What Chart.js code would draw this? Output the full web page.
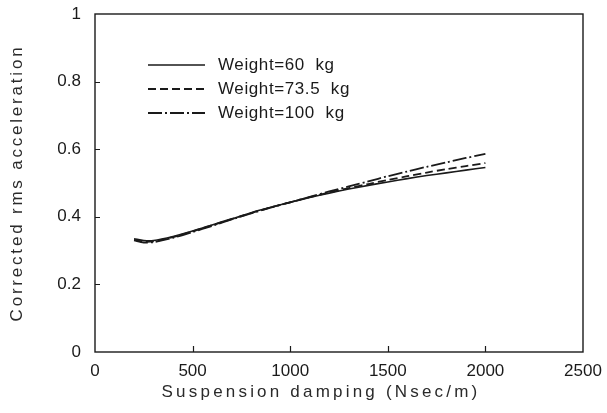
<!DOCTYPE html>
<html>
<head>
<meta charset="utf-8">
<script src="https://cdn.jsdelivr.net/npm/chart.js@4/dist/chart.umd.min.js"></script>
<style>
html,body{margin:0;padding:0;background:#fff;}
#wrap{width:607px;height:413px;}
</style>
</head>
<body>
<div id="wrap"><canvas id="c" width="607" height="413"></canvas></div>
<script>
// ---- data ----
const damping = [200, 250, 300, 400, 500, 600, 700, 800, 900, 1000, 1100, 1200, 1300, 1400, 1500, 1600, 1700, 1800, 1900, 2000];
const acc60  = [0.335, 0.330, 0.330, 0.342, 0.358, 0.376, 0.394, 0.412, 0.428, 0.443, 0.457, 0.470, 0.482, 0.493, 0.503, 0.513, 0.522, 0.530, 0.538, 0.546];
const acc735 = [0.332, 0.326, 0.327, 0.340, 0.357, 0.375, 0.393, 0.411, 0.428, 0.443, 0.458, 0.472, 0.485, 0.497, 0.509, 0.520, 0.531, 0.541, 0.550, 0.559];
const acc100 = [0.330, 0.324, 0.325, 0.338, 0.355, 0.373, 0.392, 0.410, 0.427, 0.443, 0.459, 0.475, 0.490, 0.505, 0.520, 0.534, 0.548, 0.561, 0.574, 0.586];
const seriesLabels = ['Weight=60  kg', 'Weight=73.5  kg', 'Weight=100  kg'];
const xTickValues = [0, 500, 1000, 1500, 2000, 2500];
const xTickLabels = ['0', '500', '1000', '1500', '2000', '2500'];
const yTickValues = [0, 0.2, 0.4, 0.6, 0.8, 1];
const yTickLabels = ['0', '0.2', '0.4', '0.6', '0.8', '1'];
const xTitle = 'Suspension damping (Nsec/m)';
const yTitle = 'Corrected rms acceleration';

const FONT = "'Liberation Sans', Arial, sans-serif";
const INK = '#1a1a1a';

function pts(ys){ return damping.map((x,i)=>({x:x, y:ys[i]})); }

const styles = [
  {borderDash: [], borderWidth: 1.6},
  {borderDash: [8, 4], borderWidth: 1.8},
  {borderDash: [14, 3, 2, 3], borderWidth: 1.8}
];

const datasets = [acc60, acc735, acc100].map((ys, i) => ({
  label: seriesLabels[i],
  data: pts(ys),
  borderColor: INK,
  borderWidth: styles[i].borderWidth,
  borderDash: styles[i].borderDash,
  pointRadius: 0,
  tension: 0.3,
  fill: false
}));

// frame, inward ticks, legend inside the plot, spaced titles
const decor = {
  id: 'decor',
  afterLayout(chart){
    Object.values(chart.scales).forEach(s => {
      if (s._patched) return;
      s._patched = true;
      const orig = s.drawTitle.bind(s);
      s.drawTitle = function(){
        const ctx = this.ctx;
        ctx.save();
        if (this.axis === 'x') {
          if ('letterSpacing' in ctx) ctx.letterSpacing = '3.2px';
          ctx.translate(-18, 0);
        } else {
          if ('letterSpacing' in ctx) ctx.letterSpacing = '2.8px';
        }
        orig();
        ctx.restore();
      };
    });
  },
  afterDatasetsDraw(chart){
    const ctx = chart.ctx, a = chart.chartArea;
    const xs = chart.scales.x, ys = chart.scales.y;
    ctx.save();
    ctx.strokeStyle = INK;
    ctx.lineWidth = 1.4;
    ctx.setLineDash([]);
    ctx.strokeRect(a.left, a.top, a.right - a.left, a.bottom - a.top);
    ctx.lineWidth = 1.2;
    ctx.beginPath();
    xTickValues.slice(1, -1).forEach(v => {
      const px = Math.round(xs.getPixelForValue(v)) + 0.5;
      ctx.moveTo(px, a.bottom); ctx.lineTo(px, a.bottom - 6);
    });
    yTickValues.slice(1, -1).forEach(v => {
      const py = Math.round(ys.getPixelForValue(v)) + 0.5;
      ctx.moveTo(a.left, py); ctx.lineTo(a.left + 5, py);
    });
    ctx.stroke();

    // legend
    const lx0 = a.left + 53, lx1 = a.left + 110, tx = a.left + 123;
    const rowY = [a.top + 51, a.top + 75, a.top + 99];
    ctx.font = '17px ' + FONT;
    ctx.textBaseline = 'middle';
    ctx.textAlign = 'left';
    ctx.fillStyle = INK;
    chart.data.datasets.forEach((ds, i) => {
      ctx.beginPath();
      ctx.lineWidth = ds.borderWidth;
      ctx.setLineDash(ds.borderDash);
      ctx.moveTo(lx0, rowY[i]); ctx.lineTo(lx1, rowY[i]);
      ctx.stroke();
      ctx.setLineDash([]);
      ctx.save();
      if ('letterSpacing' in ctx) ctx.letterSpacing = '0.6px';
      ctx.fillText(ds.label, tx, rowY[i]);
      ctx.restore();
    });
    ctx.restore();
  }
};

new Chart(document.getElementById('c'), {
  type: 'line',
  data: { datasets },
  options: {
    responsive: false,
    animation: false,
    devicePixelRatio: 1,
    layout: { padding: { top: 14, right: 24, left: 0, bottom: 0 } },
    plugins: { legend: { display: false }, tooltip: { enabled: false } },
    scales: {
      x: {
        type: 'linear', min: 0, max: 2500,
        afterBuildTicks(s){ s.ticks = xTickValues.map(v => ({value: v})); },
        afterFit(s){ s.height = 61; s.paddingLeft = 0; s.paddingRight = 0; },
        grid: { display: false, drawTicks: false },
        border: { display: false },
        ticks: {
          padding: 9, color: INK, maxRotation: 0, autoSkip: false,
          font: { family: FONT, size: 17 },
          callback: (v) => xTickLabels[xTickValues.indexOf(v)]
        },
        title: { display: true, text: xTitle, color: '#2a2a2a',
          font: { family: FONT, size: 17 }, padding: { top: 0, bottom: 10 } }
      },
      y: {
        type: 'linear', min: 0, max: 1,
        afterBuildTicks(s){ s.ticks = yTickValues.map(v => ({value: v})); },
        afterFit(s){ s.width = 95; s.paddingTop = 0; s.paddingBottom = 0; },
        grid: { display: false, drawTicks: false },
        border: { display: false },
        ticks: {
          padding: 14, color: INK, autoSkip: false,
          font: { family: FONT, size: 17 },
          callback: (v) => yTickLabels[yTickValues.indexOf(v)]
        },
        title: { display: true, text: yTitle, color: '#2a2a2a',
          font: { family: FONT, size: 17 }, padding: { top: 7, bottom: 0 } }
      }
    }
  },
  plugins: [decor]
});
</script>
</body>
</html>
